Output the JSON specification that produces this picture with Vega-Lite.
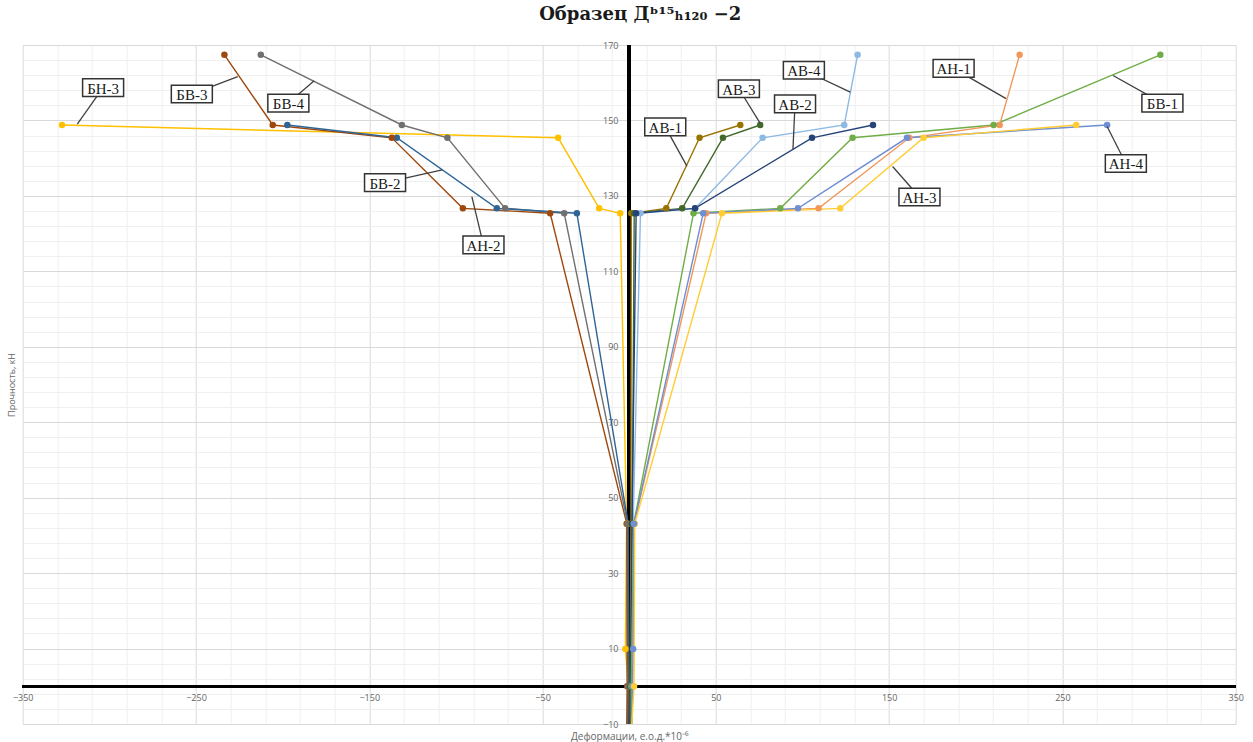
{
  "$schema": "https://vega.github.io/schema/vega-lite/v6.json",
  "width": 1213,
  "height": 679,
  "autosize": {"type": "none"},
  "padding": {"left": 22.7, "top": 45, "right": 17.3, "bottom": 18},
  "background": "white",
  "title": {
    "text": "Образец Дᵇ¹⁵ₕ₁₂₀ −2",
    "font": "DejaVu Serif",
    "fontSize": 18,
    "fontWeight": "bold",
    "color": "#1a1a1a",
    "anchor": "middle",
    "offset": 17,
    "dx": 11
  },
  "config": {
    "view": {"stroke": null},
    "axis": {
      "labelFont": "Open Sans",
      "titleFont": "Open Sans"
    }
  },
  "datasets": {
    "series": [
      {"s": "БН-3", "i": 0, "x": -0.5, "y": 0},
      {"s": "БН-3", "i": 1, "x": -2.2, "y": 9.9},
      {"s": "БН-3", "i": 2, "x": -1.5, "y": 43.1},
      {"s": "БН-3", "i": 3, "x": -5.2, "y": 125.4},
      {"s": "БН-3", "i": 4, "x": -17.3, "y": 126.7},
      {"s": "БН-3", "i": 5, "x": -41, "y": 145.4},
      {"s": "БН-3", "i": 6, "x": -327.3, "y": 148.8},

      {"s": "БВ-3", "i": 0, "x": -1.5, "y": -14},
      {"s": "БВ-3", "i": 1, "x": -1.2, "y": 0},
      {"s": "БВ-3", "i": 2, "x": -1.4, "y": 43.1},
      {"s": "БВ-3", "i": 3, "x": -45.6, "y": 125.4},
      {"s": "БВ-3", "i": 4, "x": -96, "y": 126.7},
      {"s": "БВ-3", "i": 5, "x": -137, "y": 145.4},
      {"s": "БВ-3", "i": 6, "x": -205.7, "y": 148.8},
      {"s": "БВ-3", "i": 7, "x": -233.6, "y": 167.4},

      {"s": "БВ-4", "i": 0, "x": -0.8, "y": -14},
      {"s": "БВ-4", "i": 1, "x": -0.6, "y": 0},
      {"s": "БВ-4", "i": 2, "x": -0.9, "y": 43.1},
      {"s": "БВ-4", "i": 3, "x": -37.5, "y": 125.4},
      {"s": "БВ-4", "i": 4, "x": -71.6, "y": 126.7},
      {"s": "БВ-4", "i": 5, "x": -104.9, "y": 145.4},
      {"s": "БВ-4", "i": 6, "x": -131.2, "y": 148.8},
      {"s": "БВ-4", "i": 7, "x": -212.6, "y": 167.4},

      {"s": "БВ-2", "i": 0, "x": -0.3, "y": 0},
      {"s": "БВ-2", "i": 1, "x": -0.6, "y": 43.1},
      {"s": "БВ-2", "i": 2, "x": -30.2, "y": 125.4},
      {"s": "БВ-2", "i": 3, "x": -76.4, "y": 126.7},
      {"s": "БВ-2", "i": 4, "x": -134.1, "y": 145.4},
      {"s": "БВ-2", "i": 5, "x": -197.3, "y": 148.8},

      {"s": "АВ-1", "i": 0, "x": 0.3, "y": -14},
      {"s": "АВ-1", "i": 1, "x": 0.5, "y": 0},
      {"s": "АВ-1", "i": 2, "x": 1.0, "y": 43.1},
      {"s": "АВ-1", "i": 3, "x": 1.2, "y": 125.4},
      {"s": "АВ-1", "i": 4, "x": 21.4, "y": 126.7},
      {"s": "АВ-1", "i": 5, "x": 40.6, "y": 145.4},
      {"s": "АВ-1", "i": 6, "x": 64.1, "y": 148.8},

      {"s": "АВ-3", "i": 0, "x": 0.8, "y": -14},
      {"s": "АВ-3", "i": 1, "x": 1.0, "y": 0},
      {"s": "АВ-3", "i": 2, "x": 1.8, "y": 43.1},
      {"s": "АВ-3", "i": 3, "x": 2.9, "y": 125.4},
      {"s": "АВ-3", "i": 4, "x": 30.6, "y": 126.7},
      {"s": "АВ-3", "i": 5, "x": 54.1, "y": 145.4},
      {"s": "АВ-3", "i": 6, "x": 75.6, "y": 148.8},

      {"s": "АВ-4", "i": 0, "x": 1.5, "y": 0},
      {"s": "АВ-4", "i": 1, "x": 2.3, "y": 43.1},
      {"s": "АВ-4", "i": 2, "x": 6.5, "y": 125.4},
      {"s": "АВ-4", "i": 3, "x": 38.1, "y": 126.7},
      {"s": "АВ-4", "i": 4, "x": 77, "y": 145.4},
      {"s": "АВ-4", "i": 5, "x": 124.1, "y": 148.8},
      {"s": "АВ-4", "i": 6, "x": 131.8, "y": 167.4},

      {"s": "АВ-2", "i": 0, "x": 0.2, "y": -14},
      {"s": "АВ-2", "i": 1, "x": 0.8, "y": 0},
      {"s": "АВ-2", "i": 2, "x": 1.6, "y": 43.1},
      {"s": "АВ-2", "i": 3, "x": 4.0, "y": 125.4},
      {"s": "АВ-2", "i": 4, "x": 38.0, "y": 126.7},
      {"s": "АВ-2", "i": 5, "x": 105.5, "y": 145.4},
      {"s": "АВ-2", "i": 6, "x": 140.7, "y": 148.8},

      {"s": "БВ-1", "i": 0, "x": 1.2, "y": -14},
      {"s": "БВ-1", "i": 1, "x": 1.2, "y": 0},
      {"s": "БВ-1", "i": 2, "x": 2.6, "y": 43.1},
      {"s": "БВ-1", "i": 3, "x": 37.1, "y": 125.4},
      {"s": "БВ-1", "i": 4, "x": 87.2, "y": 126.7},
      {"s": "БВ-1", "i": 5, "x": 128.9, "y": 145.4},
      {"s": "БВ-1", "i": 6, "x": 210.3, "y": 148.8},
      {"s": "БВ-1", "i": 7, "x": 306.5, "y": 167.4},

      {"s": "АН-1", "i": 0, "x": 2.0, "y": 0},
      {"s": "АН-1", "i": 1, "x": 2.9, "y": 43.1},
      {"s": "АН-1", "i": 2, "x": 44.4, "y": 125.4},
      {"s": "АН-1", "i": 3, "x": 109.3, "y": 126.7},
      {"s": "АН-1", "i": 4, "x": 161.6, "y": 145.4},
      {"s": "АН-1", "i": 5, "x": 213.8, "y": 148.8},
      {"s": "АН-1", "i": 6, "x": 225.3, "y": 167.4},

      {"s": "АН-4", "i": 0, "x": 1.6, "y": -14},
      {"s": "АН-4", "i": 1, "x": 1.8, "y": 0},
      {"s": "АН-4", "i": 2, "x": 2.3, "y": 9.9},
      {"s": "АН-4", "i": 3, "x": 2.8, "y": 43.1},
      {"s": "АН-4", "i": 4, "x": 42.7, "y": 125.4},
      {"s": "АН-4", "i": 5, "x": 97.4, "y": 126.7},
      {"s": "АН-4", "i": 6, "x": 160.3, "y": 145.4},
      {"s": "АН-4", "i": 7, "x": 275.8, "y": 148.8},

      {"s": "АН-3", "i": 0, "x": 1.0, "y": -14},
      {"s": "АН-3", "i": 1, "x": 2.8, "y": 0},
      {"s": "АН-3", "i": 2, "x": 3.2, "y": 43.1},
      {"s": "АН-3", "i": 3, "x": 53.5, "y": 125.4},
      {"s": "АН-3", "i": 4, "x": 121.8, "y": 126.7},
      {"s": "АН-3", "i": 5, "x": 169.9, "y": 145.4},
      {"s": "АН-3", "i": 6, "x": 258, "y": 148.8}
    ],
    "labels": [
      {"label": "БН-3", "x": -303.6, "y": 158.7, "x2": -318.5, "y2": 149.0},
      {"label": "БВ-3", "x": -252.4, "y": 157.0, "x2": -225.9, "y2": 161.6},
      {"label": "БВ-4", "x": -196.7, "y": 154.6, "x2": -181.8, "y2": 160.5},
      {"label": "БВ-2", "x": -140.9, "y": 133.5, "x2": -107.9, "y2": 136.9},
      {"label": "АН-2", "x": -84.1, "y": 117.0, "x2": -90.8, "y2": 129.8},
      {"label": "АВ-1", "x": 20.8, "y": 148.3, "x2": 33.3, "y2": 137.9},
      {"label": "АВ-3", "x": 63.3, "y": 158.4, "x2": 75.6, "y2": 149.2},
      {"label": "АВ-4", "x": 100.8, "y": 163.3, "x2": 127.6, "y2": 157.5},
      {"label": "АВ-2", "x": 95.7, "y": 154.4, "x2": 94.5, "y2": 142.4},
      {"label": "АН-1", "x": 187.2, "y": 163.8, "x2": 217.5, "y2": 155.8},
      {"label": "БВ-1", "x": 307.7, "y": 154.6, "x2": 279.2, "y2": 161.9},
      {"label": "АН-4", "x": 286.6, "y": 138.6, "x2": 275.8, "y2": 148.4},
      {"label": "АН-3", "x": 167.5, "y": 129.7, "x2": 152, "y2": 137.8}
    ]
  },
  "layer": [
    {
      "data": {"name": "series"},
      "mark": {"type": "rule", "color": "black", "strokeWidth": 2.6},
      "encoding": {
        "x": {
          "datum": 0,
          "type": "quantitative",
          "scale": {"domain": [-350, 350], "nice": false, "zero": false},
          "axis": {
            "values": [-350,-330,-310,-290,-270,-250,-230,-210,-190,-170,-150,-130,-110,-90,-70,-50,-30,-10,10,30,50,70,90,110,130,150,170,190,210,230,250,270,290,310,330,350],
            "tickCount": 500,
            "format": "d",
            "grid": true,
            "gridColor": {"condition": {"test": "(datum.value + 350) % 100 === 0", "value": "#d9d9d9"}, "value": "#efefef"},
            "gridWidth": 1,
            "domain": false,
            "ticks": false,
            "tickSize": 0,
            "offset": -37.7,
            "labelPadding": 7,
            "labelFontSize": 9,
            "labelColor": "#666666",
            "labelFlush": false,
            "labelOverlap": false,
            "labelExpr": "(datum.value + 350) % 100 === 0 ? datum.label : ''",
            "title": "Деформации, е.о.д.*10⁻⁶",
            "titleY": 45,
            "titleFontSize": 10,
            "titleFontWeight": "normal",
            "titleColor": "#666666"
          }
        }
      }
    },
    {
      "data": {"name": "series"},
      "mark": {"type": "rule", "color": "black", "strokeWidth": 2.6},
      "encoding": {
        "y": {
          "datum": 0,
          "type": "quantitative",
          "scale": {"domain": [-10, 170], "nice": false, "zero": false},
          "axis": {
            "values": [-10,-6,-2,2,6,10,14,18,22,26,30,34,38,42,46,50,54,58,62,66,70,74,78,82,86,90,94,98,102,106,110,114,118,122,126,130,134,138,142,146,150,154,158,162,166,170],
            "tickCount": 500,
            "format": "d",
            "grid": true,
            "gridColor": {"condition": {"test": "(datum.value + 10) % 20 === 0", "value": "#d9d9d9"}, "value": "#efefef"},
            "gridWidth": 1,
            "domain": false,
            "ticks": false,
            "tickSize": 0,
            "offset": -606.3,
            "labelPadding": 11,
            "labelFontSize": 9,
            "labelColor": "#666666",
            "labelOverlap": false,
            "labelFlush": false,
            "labelExpr": "(datum.value + 10) % 20 === 0 ? datum.label : ''",
            "title": "Прочность, кН",
            "titleX": -613,
            "titleFontSize": 9,
            "titleFontWeight": "normal",
            "titleColor": "#666666"
          }
        }
      }
    },
    {
      "data": {"name": "series"},
      "mark": {"type": "line", "strokeWidth": 1.4, "clip": true, "point": {"filled": true, "size": 42, "opacity": 1}},
      "encoding": {
        "x": {"field": "x", "type": "quantitative"},
        "y": {"field": "y", "type": "quantitative"},
        "order": {"field": "i", "type": "quantitative"},
        "color": {
          "field": "s",
          "type": "nominal",
          "legend": null,
          "scale": {
            "domain": ["БН-3", "БВ-3", "БВ-4", "БВ-2", "АВ-1", "АВ-3", "АВ-4", "АВ-2", "БВ-1", "АН-1", "АН-4", "АН-3"],
            "range": ["#FFC000", "#9E480E", "#707070", "#2E6596", "#997300", "#43682B", "#8DB9E3", "#264478", "#70AD47", "#F1975A", "#6F8FD2", "#FFCD33"]
          }
        }
      }
    },
    {
      "data": {"name": "labels"},
      "mark": {"type": "rule", "color": "#404040", "strokeWidth": 1.3},
      "encoding": {
        "x": {"field": "x", "type": "quantitative"},
        "y": {"field": "y", "type": "quantitative"},
        "x2": {"field": "x2"},
        "y2": {"field": "y2"}
      }
    },
    {
      "data": {"name": "labels"},
      "mark": {"type": "point", "shape": "M-1,-0.43H1V0.43H-1Z", "size": 1681, "filled": true, "fill": "white", "stroke": "#333333", "strokeWidth": 1.5, "opacity": 1},
      "encoding": {
        "x": {"field": "x", "type": "quantitative"},
        "y": {"field": "y", "type": "quantitative"}
      }
    },
    {
      "data": {"name": "labels"},
      "mark": {"type": "text", "font": "Liberation Serif", "fontSize": 15, "color": "#1a1a1a", "align": "center", "baseline": "middle", "dy": 1},
      "encoding": {
        "x": {"field": "x", "type": "quantitative"},
        "y": {"field": "y", "type": "quantitative"},
        "text": {"field": "label"}
      }
    }
  ]
}
